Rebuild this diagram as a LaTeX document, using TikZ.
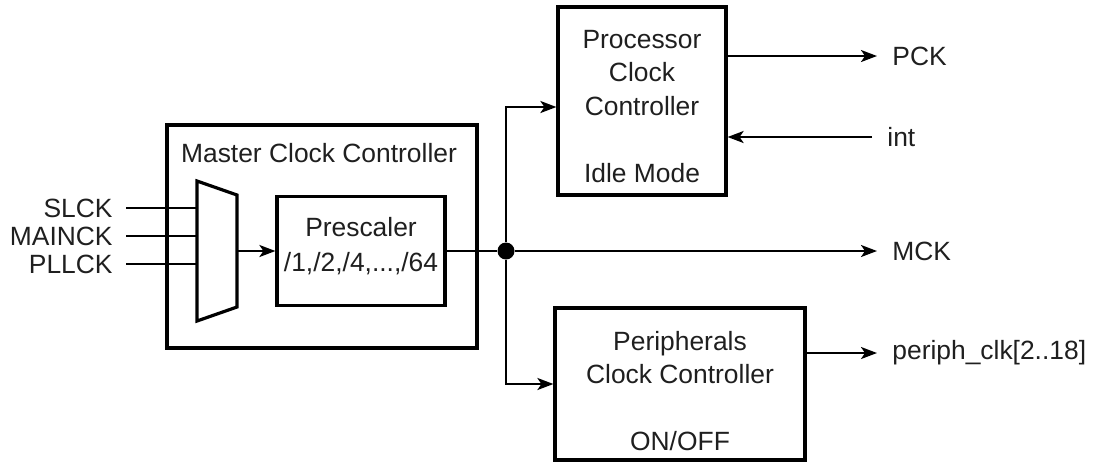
\documentclass[tikz,border=0pt]{standalone}
\usepackage{fontspec}
\setmainfont{Liberation Sans}
\usetikzlibrary{arrows.meta}

\begin{document}
\begin{tikzpicture}[x=0.5pt,y=-0.5pt,
		box/.style={draw,line width=1.6pt,inner sep=0pt},
		lbl/.style={font=\fontsize{13.2}{16.75}\selectfont,inner sep=0pt,align=center,text=black!88},
		sig/.style={line width=1.1pt,-{Stealth[length=8pt,width=6pt,inset=2pt]}},
		wire/.style={line width=1.4pt}]
				%%%%% START %%%%%
				\def\ymck{251}
				\def\xbus{506}
				\def\xlbl{892}
				\def\gap{7.5pt}

				\useasboundingbox (0,0) rectangle (1093,463);

				% master clock controller
				\node[box,minimum width=155pt,minimum height=111.5pt] (master) at (322,236.5) {};
				\node[lbl] (mastertxt) at (319,153) {Master Clock Controller};

				\draw[line width=1.6pt] (197,181) coordinate (muxtl) -- (237,195) -- (237,307) -- (197,321) -- cycle;
				\coordinate (muxout) at (237,\ymck);

				\foreach \y/\n/\t in {208/slck/SLCK,236/mainck/MAINCK,264/pllck/PLLCK}{
					\node[lbl,anchor=east] (\n) at (113,\y) {\t};
					\draw[wire] ([xshift=6.5pt]\n.east) -- (\n.east -| muxtl);
				}

				\node[box,minimum width=84pt,minimum height=54.5pt] (pre) at (361,\ymck) {};
				\node[lbl] (pretxt) at (361,246) {Prescaler\\[0.75pt]/1,/2,/4,...,/64};
				\draw[sig] (muxout) -- (pre.west);

				% junction and outputs
				\node[circle,fill=black,inner sep=0pt,minimum size=8.5pt] (jn) at (\xbus,\ymck) {};
				\draw[line width=1.1pt] (pre.east) -- (jn);

				\node[box,minimum width=84pt,minimum height=94pt] (proc) at (642,101) {};
				\node[lbl] (proctxt) at (642,106.5) {Processor\\Clock\\Controller\\[16.75pt]Idle Mode};

				\node[box,minimum width=125pt,minimum height=76pt] (peri) at (680,384) {};
				\node[lbl] (peritxt) at (680,391) {Peripherals\\Clock Controller\\[16.75pt]ON/OFF};

				\node[lbl,anchor=west] (pck) at (\xlbl,56) {PCK};
				\node[lbl,anchor=west] (int) at (887,137) {int};
				\node[lbl,anchor=west] (mck) at (\xlbl,\ymck) {MCK};
				\node[lbl,anchor=west] (pclk) at (\xlbl,353) {periph\_clk[2..18]};

				\draw[sig] (jn) |- ([yshift=-3pt]proc.west);
				\draw[sig] (jn) |- (peri.west);
				\draw[sig,shorten >=\gap] (jn) -- (mck.west);
				\draw[sig,shorten >=\gap] (proc.east |- pck.west) -- (pck.west);
				\draw[sig,shorten <=\gap] (int.west) -- (proc.east |- int.west);
				\draw[sig,shorten >=\gap] (peri.east |- pclk.west) -- (pclk.west);
				%%%%% START %%%%%
\end{tikzpicture}
\end{document}
